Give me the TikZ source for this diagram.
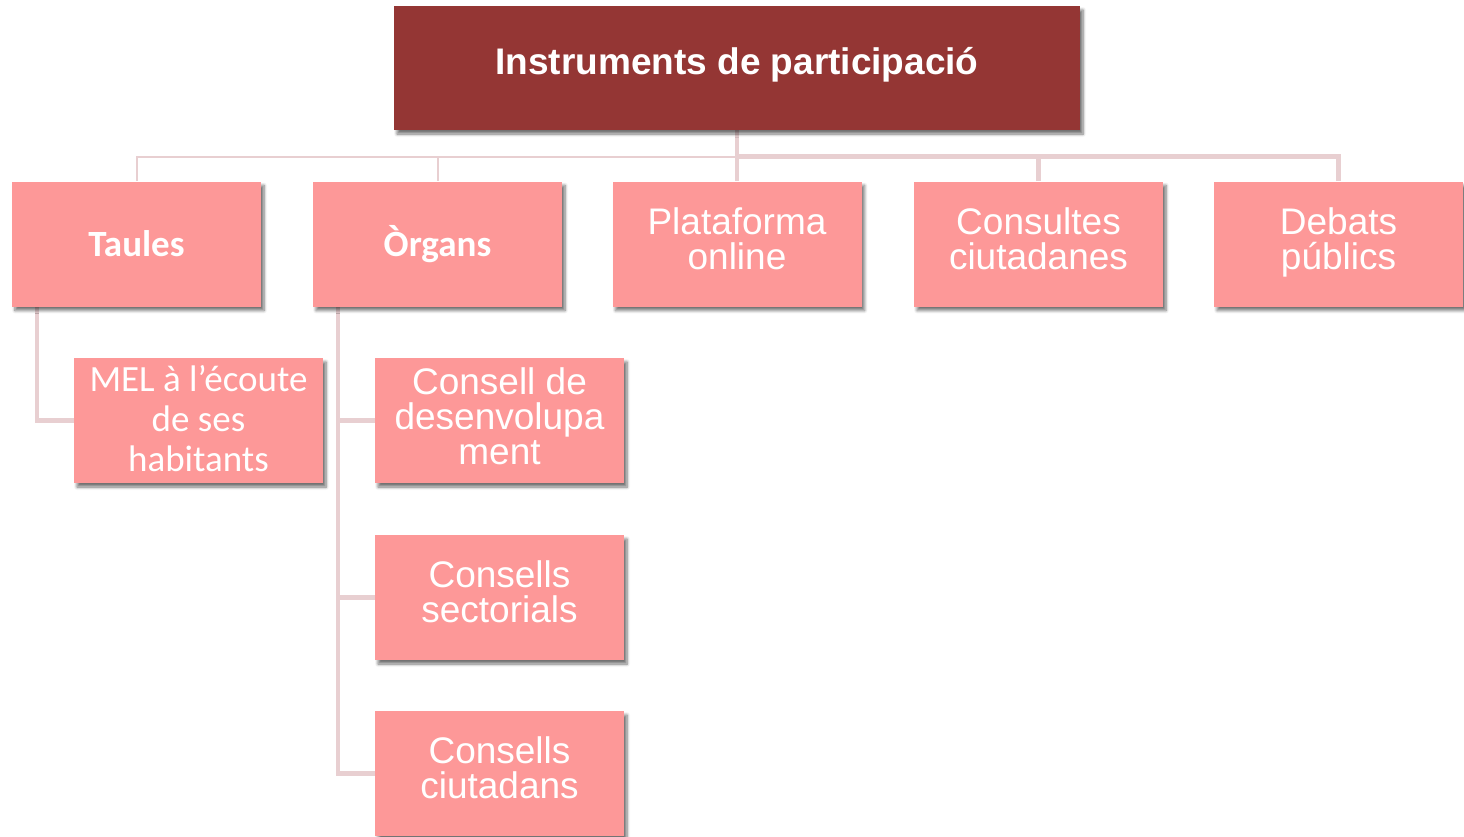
\documentclass[tikz,border=0pt]{standalone}
\usepackage{fontspec}
\setmainfont{Liberation Sans}
\newfontfamily\calibri{Carlito}
\usetikzlibrary{shadows.blur,backgrounds}
\definecolor{rootred}{HTML}{943634}
\definecolor{boxpink}{HTML}{FD9898}
\definecolor{connpink}{HTML}{E8CFD1}
\tikzset{
  shad/.style={blur shadow={shadow xshift=3pt,shadow yshift=-4pt,shadow blur steps=6,shadow blur radius=3pt,shadow opacity=55}},
  rootbox/.style={fill=rootred,shad,minimum width=686pt,minimum height=124pt,inner sep=0pt,text=white,align=center,
    text height=12pt,text depth=0pt,font=\bfseries\fontsize{37}{40}\selectfont},
  pbox/.style={fill=boxpink,shad,minimum width=249pt,minimum height=125pt,inner sep=0pt,text=white,align=center,
    text height=50pt,text depth=0pt,font=\fontsize{37}{35}\selectfont},
  threemel/.style={text height=101pt,text depth=0pt},
  threecd/.style={text height=88pt,text depth=0pt},
  one/.style={text height=25pt,text depth=0pt},
  cbold/.style={font=\calibri\bfseries\fontsize{37}{40}\selectfont},
  creg/.style={font=\calibri\fontsize{37}{40}\selectfont},
  cthin/.style={draw=connpink,line width=2pt},
  cthick/.style={draw=connpink,line width=4.5pt},
}
\begin{document}
\begin{tikzpicture}[x=1pt,y=-1pt]
\useasboundingbox (0,0) rectangle (1464,836);
\node[rootbox] (root) at (737,68) {Instruments de participació};
\node[pbox,cbold,one] (taules) at (136.5,244) {Taules};
\node[pbox,cbold,one] (organs) at (437.5,244) {Òrgans};
\node[pbox] (plat) at (737,244) {Plataforma\\online};
\node[pbox] (cons) at (1038.5,244) {Consultes\\ciutadanes};
\node[pbox] (debats) at (1338.5,244) {Debats\\públics};
\node[pbox,creg,threemel] (mel) at (198.5,420.5) {MEL à l’écoute\\de ses\\habitants};
\node[pbox,threecd] (cdes) at (499.5,420.5) {Consell de\\desenvolupa\\ment};
\node[pbox] (csec) at (499.5,597.5) {Consells\\sectorials};
\node[pbox] (cciu) at (499.5,773.5) {Consells\\ciutadans};
\coordinate (bus) at (0,156.5);
\coordinate (tdrop) at ([xshift=25pt]taules.south west);
\coordinate (odrop) at ([xshift=25pt]organs.south west);
\begin{scope}[on background layer]
\draw[cthick] (root.south) -- (root.south |- bus);
\draw[cthin] (root.south |- bus) -- (taules.north |- bus) -- (taules.north);
\draw[cthin] (organs.north |- bus) -- (organs.north);
\draw[cthick] (root.south |- bus) -- (debats.north |- bus) -- (debats.north);
\draw[cthick] (plat.north |- bus) -- (plat.north);
\draw[cthick] (cons.north |- bus) -- (cons.north);
\draw[cthick] (tdrop) |- (mel.west);
\draw[cthick] (odrop) |- (cdes.west);
\draw[cthick] (odrop) |- (csec.west);
\draw[cthick] (odrop) |- (cciu.west);
\end{scope}
\end{tikzpicture}
\end{document}
